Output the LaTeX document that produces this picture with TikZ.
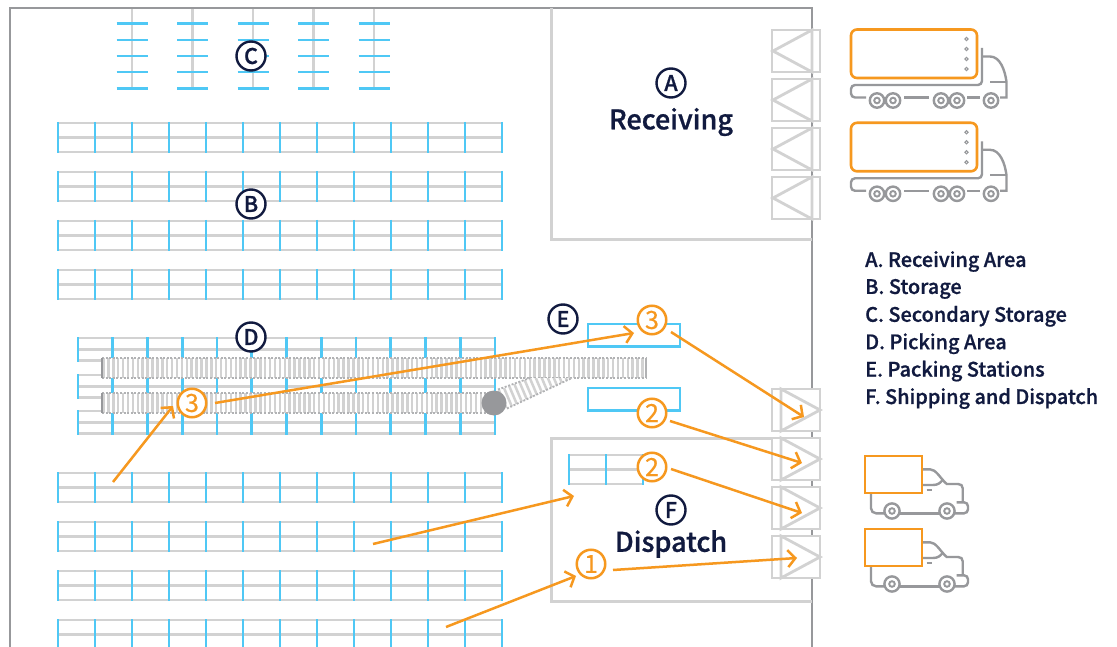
\documentclass[tikz,border=0pt]{standalone}
\usepackage{fontspec}
\setmainfont{Noto Sans CJK SC Medium}[FakeBold=0.9]
\newfontfamily\numfont{Noto Sans CJK SC}[FakeBold=0.5]
\usetikzlibrary{arrows.meta}
\definecolor{org}{HTML}{F6981F}
\definecolor{cyn}{HTML}{4FC8F5}
\definecolor{lgr}{HTML}{D2D2D2}
\definecolor{dgr}{HTML}{97989B}
\definecolor{nvy}{HTML}{111A3F}
\tikzset{
  wall/.style={draw=dgr,line width=2.8pt},
  zone/.style={draw=lgr,line width=3pt},
  rackh/.style={draw=lgr,line width=2.6pt},
  rackv/.style={draw=cyn,line width=2.6pt},
  dockbox/.style={draw=lgr,line width=2.8pt,fill=white},
  flow/.style={draw=org,line width=2.5pt,-{Straight Barb[length=7.5pt,width=17pt,line width=2.5pt]}},
  marker/.style={circle,draw=nvy,line width=2.4pt,fill=white,minimum size=29pt,inner sep=0pt,text=nvy,font=\fontsize{21.5}{21.5}\selectfont},
  step circle/.style={circle,draw=org,line width=2.5pt,fill=white,minimum size=28.5pt,inner sep=0pt,text=org,font=\numfont\fontsize{25}{25}\selectfont},
  title/.style={text=nvy,font=\fontsize{27}{27}\selectfont,inner sep=0pt},
  legend/.style={text=nvy,font=\fontsize{19.9}{19.9}\selectfont,anchor=west,inner sep=0pt},
  veh/.style={draw=dgr,line width=2.4pt},
  cargo/.style={draw=org,line width=2.6pt},
  beltframe/.style={draw=dgr!75,line width=1.8pt,dash pattern=on 2pt off 1.6pt},
}
% x0, top y, number of bays, bay width, mid y offset, bottom y offset
\newcommand{\rackrow}[6]{%
  \draw[rackh] (#1,#2) -- ({#1+#3*#4},#2);
  \draw[rackh] (#1,{#2+#5}) -- ({#1+#3*#4},{#2+#5});
  \draw[rackh] (#1,{#2+#6}) -- ({#1+#3*#4},{#2+#6});
  \foreach \k in {0,...,#3}{\draw[rackv] ({#1+\k*#4},{#2-1}) -- ({#1+\k*#4},{#2+#6+1});}
}
\newcommand{\recvdock}[1]{%
  \draw[dockbox] (772,#1) rectangle (820,{#1+42});
  \draw[lgr,line width=2.8pt] (812,#1) -- (773,{#1+21}) -- (812,{#1+42}) -- cycle;
}
\newcommand{\shipdock}[1]{%
  \draw[dockbox] (772,#1) rectangle (820,{#1+42});
  \draw[lgr,line width=2.8pt] (781,#1) -- (820,{#1+21}) -- (781,{#1+42}) -- cycle;
}
\newcommand{\wheel}[3]{%
  \draw[veh,fill=white] (#1,#2) circle (#3);
  \draw[veh,line width=1.9pt] (#1,#2) circle (2.8);
}
\newcommand{\bigtruck}[1]{%
  \begin{scope}[yshift=-#1pt]
  \draw[cargo,rounded corners=6pt] (851,29.5) rectangle (977,78);
  \foreach \d in {39,49,59,69}{\draw[dgr,line width=1.1pt] (966.5,\d) circle (1.6);}
  \draw[veh,rounded corners=4pt] (982,48) -- (982,85) -- (851,85) -- (851,97.5) -- (866,97.5);
  \draw[veh] (904,97.5) -- (929,97.5);
  \draw[veh] (967,97.5) -- (980,97.5);
  \draw[veh] (983,56.5) -- (990,56.5) .. controls (1000,56.5) and (1005,70) .. (1006.5,82) -- (1006.5,97.5) -- (1000,97.5);
  \draw[veh] (990,82) -- (1006.5,82);
  \foreach \w in {877,893,941,957,991}{\wheel{\w}{100.5}{7.2}}
  \end{scope}
}
\newcommand{\van}[1]{%
  \begin{scope}[yshift=-#1pt]
  \draw[veh,rounded corners=5pt] (871,493) -- (871,513.3) -- (884,513.3);
  \draw[veh] (900,513.3) -- (939,513.3);
  \draw[veh] (922.7,469.3) -- (930,469.3) .. controls (936,469.3) and (940,478) .. (946.7,484) -- (958,484) .. controls (961,484) and (962.7,485.5) .. (962.7,488.3) -- (962.7,502.3);
  \draw[veh,rounded corners=4pt] (956.7,502.3) -- (968,502.3) -- (968,513.3) -- (955,513.3);
  \draw[veh] (922.7,485) -- (933,485) .. controls (938,485) and (940,483) .. (942.7,480);
  \draw[veh] (926.7,490) -- (932,490);
  \wheel{892}{511}{7.6}
  \wheel{947}{511}{7.6}
  \draw[cargo,fill=white] (865,456) rectangle (922,493);
  \end{scope}
}
\newcommand{\belt}[3]{% x0,x1,top y
  \fill[white] (#1,#3) rectangle (#2,{#3+20});
  \pgfmathtruncatemacro{\nticks}{(#2-#1-3)/4.9}
  \foreach \k in {0,...,\nticks}{\draw[lgr,line width=2.5pt] ({#1+1.5+4.9*\k},#3) -- ({#1+1.5+4.9*\k},{#3+20});}
  \draw[beltframe] (#1,#3) -- (#2,#3);
  \draw[beltframe] (#1,{#3+20}) -- (#2,{#3+20});
  \draw[dgr,line width=1.6pt] (#1,#3) -- (#1,{#3+20});
  \draw[dgr!75,line width=1.6pt] (#2,#3) -- (#2,{#3+20});
}
\begin{document}
\begin{tikzpicture}[x=1pt,y=-1pt]
\useasboundingbox (0,0) rectangle (1117,647);
\clip (0,0) rectangle (1117,647);
\fill[white] (0,0) rectangle (1117,647);
% storage C
\foreach \x in {132,192.5,253,313.5,374}{
  \draw[rackh] (\x,8) -- (\x,88);
  \foreach \y in {23.5,40,56,72,88.5}{\draw[cyn,line width=2.4pt] ({\x-15.5},\y) -- ({\x+15.5},\y);}
}
% storage B
\foreach \y in {123,172,221,270,473,522,571,620}{\rackrow{58}{\y}{12}{37}{14.5}{29}}
% picking D
\foreach \y in {338,375,411}{\rackrow{78}{\y}{12}{34.75}{11.5}{22.5}}
% walls
\draw[wall] (10,647) -- (10,8) -- (812,8) -- (812,647);
\draw[zone] (551,8) -- (551,240) -- (812,240);
\draw[zone] (812,438) -- (551,438) -- (551,601) -- (812,601);
\rackrow{569}{455}{2}{37}{14.5}{29}
\draw[cyn,line width=2.8pt] (588,324) rectangle (680,346.5);
\draw[cyn,line width=2.8pt] (588,388) rectangle (680,410.5);
% conveyors
\belt{102}{646}{358}
\begin{scope}
\clip (494,392) -- (530,378) -- (572,378) -- (507,408.5) -- cycle;
\fill[white] (494,392) -- (530,378) -- (572,378) -- (507,408.5) -- cycle;
\foreach \t in {0,...,16}{\draw[lgr,line width=2.5pt] ({503+5.2*\t},{414-1.9*\t}) -- ({492+5.2*\t},{388-1.9*\t});}
\end{scope}
\draw[beltframe] (498,389.5) -- (530,378);
\draw[beltframe] (507,408.5) -- (572,378);
\belt{102}{495}{393}
\fill[dgr] (494,403) circle (12.5);
% docks
\foreach \y in {30,79,128,177}{\recvdock{\y}}
\foreach \y in {389,438,487,536}{\shipdock{\y}}
% vehicles
\bigtruck{0}
\bigtruck{93.3}
\van{0}
\van{73}
% labels
\node[marker] (mC) at (251,56) {C};
\node[marker] (mB) at (251,204) {B};
\node[marker] (mD) at (251,337) {D};
\node[marker] (mE) at (563,319) {E};
\node[marker] (mA) at (671,83) {A};
\node[marker] (mF) at (671,510) {F};
\node[title] (tR) at (671,122) {Receiving};
\node[title] (tD) at (671,544) {Dispatch};
\node[legend] (l1) at (865,261.5) {A. Receiving Area};
\node[legend] (l2) at (865,288.9) {B. Storage};
\node[legend] (l3) at (865,316.3) {C. Secondary Storage};
\node[legend] (l4) at (865,343.7) {D. Picking Area};
\node[legend] (l5) at (865,371.1) {E. Packing Stations};
\node[legend] (l6) at (865,398.5) {F. Shipping and Dispatch};
% step markers
\node[step circle] (s3a) at (192,403) {3};
\node[step circle] (s3b) at (652,320) {3};
\node[step circle] (s2a) at (652,413) {2};
\node[step circle] (s2b) at (652,467) {2};
\node[step circle] (s1) at (591,564) {1};
% flow end points
\coordinate (f1a) at (113,482);
\coordinate (f1b) at (173,406);
\coordinate (f2a) at (215,403);
\coordinate (f2b) at (634,333);
\coordinate (f3a) at (671,332);
\coordinate (f3b) at (804,417);
\coordinate (f4a) at (670,421);
\coordinate (f4b) at (802,463);
\coordinate (f5a) at (671,469);
\coordinate (f5b) at (802,513);
\coordinate (f6a) at (373,544);
\coordinate (f6b) at (574,496);
\coordinate (f7a) at (446,627);
\coordinate (f7b) at (576,576);
\coordinate (f8a) at (613,570);
\coordinate (f8b) at (797,558);
\foreach \n in {1,...,8}{\draw[flow] (f\n a) -- (f\n b);}
\end{tikzpicture}
\end{document}
